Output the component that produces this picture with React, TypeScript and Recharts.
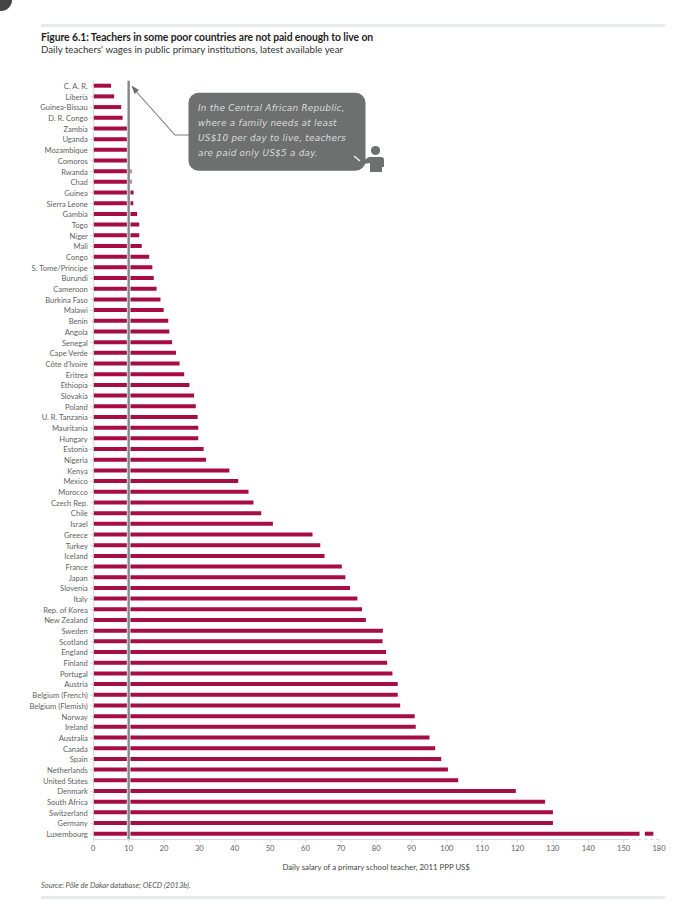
import React from "react";
import { BarChart, Bar, XAxis, YAxis, ReferenceLine, Label } from "recharts";

const countries = [
  "C. A. R.", "Liberia", "Guinea-Bissau", "D. R. Congo", "Zambia", "Uganda", "Mozambique", "Comoros", "Rwanda", "Chad",
  "Guinea", "Sierra Leone", "Gambia", "Togo", "Niger", "Mali", "Congo", "S. Tome/Principe", "Burundi", "Cameroon",
  "Burkina Faso", "Malawi", "Benin", "Angola", "Senegal", "Cape Verde", "Côte d'Ivoire", "Eritrea", "Ethiopia", "Slovakia",
  "Poland", "U. R. Tanzania", "Mauritania", "Hungary", "Estonia", "Nigeria", "Kenya", "Mexico", "Morocco", "Czech Rep.",
  "Chile", "Israel", "Greece", "Turkey", "Iceland", "France", "Japan", "Slovenia", "Italy", "Rep. of Korea",
  "New Zealand", "Sweden", "Scotland", "England", "Finland", "Portugal", "Austria", "Belgium (French)", "Belgium (Flemish)", "Norway",
  "Ireland", "Australia", "Canada", "Spain", "Netherlands", "United States", "Denmark", "South Africa", "Switzerland", "Germany",
  "Luxembourg",
];

const wages = [
  5, 5.9, 7.9, 8.3, 9.8, 9.8, 9.8, 9.8, 10.8, 10.8,
  11.4, 11.3, 12.4, 13, 13, 13.7, 15.8, 16.7, 17.1, 17.9,
  19, 19.9, 21.2, 21.5, 22.3, 23.4, 24.4, 25.7, 27.2, 28.5,
  29, 29.5, 29.7, 29.7, 31.2, 31.9, 38.5, 41, 43.9, 45.3,
  47.5, 50.8, 62, 64.2, 65.4, 70.3, 71.3, 72.6, 74.7, 76,
  77.1, 81.9, 81.8, 82.8, 83.1, 84.6, 86.1, 86.1, 86.8, 90.9,
  91.2, 95.1, 96.7, 98.4, 100.3, 103.2, 119.5, 127.8, 130, 130,
  154.5,
];

// Luxembourg's bar runs past the axis break: a blank gap, then a stub before the "180" tick.
const breakGap = 1.5;
const breakTail = 2.4;

const xTicks = [0, 10, 20, 30, 40, 50, 60, 70, 80, 90, 100, 110, 120, 130, 140, 150, 160];
const xTickLabels = ["0", "10", "20", "30", "40", "50", "60", "70", "80", "90", "100", "110", "120", "130", "140", "150", "180"];

const calloutLines = [
  "In the Central African Republic,",
  "where a family needs at least",
  "US$10 per day to live, teachers",
  "are paid only US$5 a day.",
];

const rows = countries.map((country, i) => ({
  country,
  wage: wages[i],
  gap: i === countries.length - 1 ? breakGap : 0,
  tail: i === countries.length - 1 ? breakTail : 0,
}));

const FONT = "Lato, 'Open Sans', sans-serif";
const BAR = "#a50d43";
const AXIS = "#d3d6d6";
const LABEL = "#5f6263";

const textStyle: React.CSSProperties = { position: "absolute", whiteSpace: "nowrap", fontFamily: FONT, lineHeight: 1 };

function CountryTick(props: any) {
  const { x, y, payload } = props;
  return (
    <text x={x - 0.5} y={y} dy={3} textAnchor="end" fontSize={7.6} fontFamily={FONT} fill={LABEL}>
      {payload.value}
    </text>
  );
}

export default function App() {
  return (
    <div style={{ position: "absolute", left: 0, top: 0, width: 689, height: 909, background: "#fff", overflow: "hidden" }}>
      <div style={{ position: "absolute", left: 41, top: 24, width: 624, height: 3, background: "#e8e9e9" }} />
      <div style={{ ...textStyle, left: 41, top: 31.5, fontSize: 10.4, fontWeight: 700, color: "#1f1f1f", letterSpacing: -0.1 }}>
        Figure 6.1: Teachers in some poor countries are not paid enough to live on
      </div>
      <div style={{ ...textStyle, left: 41, top: 45, fontSize: 9.7, color: "#333" }}>
        Daily teachers' wages in public primary institutions, latest available year
      </div>

      <BarChart
        width={689}
        height={909}
        data={rows}
        layout="vertical"
        margin={{ top: 80.7, right: 30, bottom: 29.6, left: 0 }}
        barCategoryGap={0}
        style={{ position: "absolute", left: 0, top: 0 }}
      >
        <XAxis
          type="number"
          domain={[0, 160]}
          ticks={xTicks}
          interval={0}
          height={40}
          tickSize={3}
          tickMargin={3}
          tickLine={{ stroke: AXIS }}
          axisLine={{ stroke: AXIS, strokeDasharray: "536 3 3 3 3 3 3 3 3 3 3 3 3" }}
          tick={{ fontSize: 7.6, fill: LABEL, fontFamily: FONT }}
          tickFormatter={(v: number) => xTickLabels[xTicks.indexOf(v)]}
        >
          <Label
            value="Daily salary of a primary school teacher, 2011 PPP US$"
            position="insideBottom"
            offset={9}
            style={{ fontSize: 7.8, fill: "#444", fontFamily: FONT }}
          />
        </XAxis>
        <YAxis
          type="category"
          dataKey="country"
          width={93.3}
          interval={0}
          tickSize={3}
          tickMargin={2}
          tickLine={{ stroke: AXIS }}
          axisLine={{ stroke: AXIS }}
          tick={CountryTick}
        />
        <Bar dataKey="wage" stackId="w" fill={BAR} barSize={4} isAnimationActive={false} />
        <Bar dataKey="gap" stackId="w" fill="none" barSize={4} isAnimationActive={false} />
        <Bar dataKey="tail" stackId="w" fill={BAR} barSize={4} isAnimationActive={false} />
        <ReferenceLine x={10} stroke="#fff" strokeWidth={3.6} />
        <ReferenceLine x={10} stroke="#7f8888" strokeWidth={2.4} />
      </BarChart>

      <svg width={689} height={909} style={{ position: "absolute", left: 0, top: 0, pointerEvents: "none" }}>
        <circle cx={1} cy={0} r={11} fill="#444" />
        <path d="M189 135 H175 L133 88" fill="none" stroke="#7a7c7c" strokeWidth={1.1} />
        <path d="M131.5 85.5 L139 90 L134.5 94 Z" fill="#6d6e6e" />
        <rect x={188.5} y={92.7} width={177} height={78} rx={10} fill="#6e6f6f" />
        {calloutLines.map((line, i) => (
          <text
            key={line}
            x={198}
            y={110.5 + i * 15.1}
            fontFamily="'DejaVu Sans', sans-serif"
            fontStyle="italic"
            fontSize={8.9}
            letterSpacing={0.25}
            fill="#dcdcdc"
          >
            {line}
          </text>
        ))}
        <line x1={354} y1={156} x2={360} y2={161} stroke="#eee" strokeWidth={1.6} />
        <circle cx={375.5} cy={150.5} r={4.6} fill="#6e6f6f" />
        <path d="M363 161 L369 157 H381 Q384 157 384 160 V167 H382 V172 H370 V163 L364 164 Z" fill="#6e6f6f" />
      </svg>

      <div style={{ ...textStyle, left: 41, top: 882, fontSize: 7.5, fontStyle: "italic", color: "#555" }}>
        Source: Pôle de Dakar database; OECD (2013b).
      </div>
      <div style={{ position: "absolute", left: 41, top: 896, width: 624, height: 3, background: "#e8e9e9" }} />
    </div>
  );
}
